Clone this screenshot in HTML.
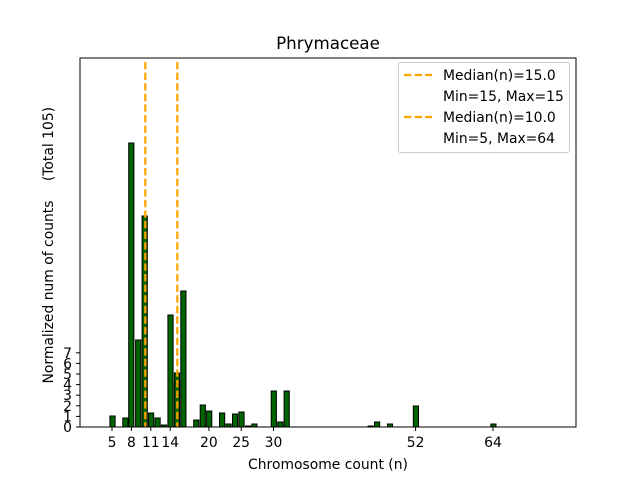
<!DOCTYPE html>
<html><head><meta charset="utf-8"><style>body{margin:0;background:#fff}svg{display:block}text{font-family:"DejaVu Sans","Liberation Sans",sans-serif;fill:#000}</style></head>
<body>
<svg width="640" height="480" viewBox="0 0 640 480" xmlns="http://www.w3.org/2000/svg">
<rect width="640" height="480" fill="#fff"/>
<g fill="#006400" stroke="#000" stroke-width="1">
<rect x="109.9" y="416" width="5.2" height="11"/>
<rect x="122.8" y="418" width="5.2" height="9"/>
<rect x="128.7" y="143" width="5.2" height="284"/>
<rect x="135.6" y="340" width="5.2" height="87"/>
<rect x="142.1" y="216" width="5.2" height="211"/>
<rect x="148.5" y="413" width="5.2" height="14"/>
<rect x="155" y="418" width="5.2" height="9"/>
<rect x="161.4" y="425" width="5.2" height="2"/>
<rect x="167.9" y="315" width="5.2" height="112"/>
<rect x="174.4" y="373" width="5.2" height="54"/>
<rect x="174.4" y="384" width="5.2" height="43"/>
<rect x="180.8" y="291" width="5.2" height="136"/>
<rect x="193.7" y="420" width="5.2" height="7"/>
<rect x="200.2" y="405" width="5.2" height="22"/>
<rect x="206.6" y="411" width="5.2" height="16"/>
<rect x="219.5" y="413" width="5.2" height="14"/>
<rect x="226" y="424" width="5.2" height="3"/>
<rect x="232.5" y="414" width="5.2" height="13"/>
<rect x="238.9" y="412" width="5.2" height="15"/>
<rect x="245.4" y="426" width="5.2" height="1"/>
<rect x="251.8" y="424" width="5.2" height="3"/>
<rect x="271.2" y="391" width="5.2" height="36"/>
<rect x="277.7" y="422" width="5.2" height="5"/>
<rect x="284.1" y="391" width="5.2" height="36"/>
<rect x="368.1" y="426" width="5.2" height="1"/>
<rect x="374.5" y="422" width="5.2" height="5"/>
<rect x="387.4" y="424" width="5.2" height="3"/>
<rect x="413.3" y="406" width="5.2" height="21"/>
<rect x="490.8" y="424" width="5.2" height="3"/>
</g>
<g stroke="#ffa500" stroke-width="2.2" stroke-dasharray="7.4,3.2">
<line x1="177.3" y1="62" x2="177.3" y2="427"/>
<line x1="145.3" y1="62" x2="145.3" y2="427"/>
</g>
<rect x="80" y="58" width="496" height="369" fill="none" stroke="#000" stroke-width="1"/>
<g stroke="#000" stroke-width="1">
<line x1="112" y1="427" x2="112" y2="431"/><line x1="131.4" y1="427" x2="131.4" y2="431"/><line x1="150.8" y1="427" x2="150.8" y2="431"/><line x1="170.2" y1="427" x2="170.2" y2="431"/><line x1="208.9" y1="427" x2="208.9" y2="431"/><line x1="241.2" y1="427" x2="241.2" y2="431"/><line x1="273.5" y1="427" x2="273.5" y2="431"/><line x1="415.6" y1="427" x2="415.6" y2="431"/><line x1="493" y1="427" x2="493" y2="431"/>
<line x1="76" y1="427" x2="80" y2="427"/><line x1="76" y1="416.4" x2="80" y2="416.4"/><line x1="76" y1="405.8" x2="80" y2="405.8"/><line x1="76" y1="395.2" x2="80" y2="395.2"/><line x1="76" y1="384.6" x2="80" y2="384.6"/><line x1="76" y1="374" x2="80" y2="374"/><line x1="76" y1="363.4" x2="80" y2="363.4"/><line x1="76" y1="352.8" x2="80" y2="352.8"/>
</g>
<g font-size="13.9" text-anchor="middle">
<text x="112" y="447">5</text><text x="131.4" y="447">8</text><text x="150.8" y="447">11</text><text x="170.2" y="447">14</text><text x="208.9" y="447">20</text><text x="241.2" y="447">25</text><text x="273.5" y="447">30</text><text x="415.6" y="447">52</text><text x="493" y="447">64</text>
</g>
<g font-size="13.9" text-anchor="end">
<text x="72" y="432">0</text><text x="72" y="421.4">1</text><text x="72" y="410.8">2</text><text x="72" y="400.2">3</text><text x="72" y="389.6">4</text><text x="72" y="379">5</text><text x="72" y="368.4">6</text><text x="72" y="357.8">7</text>
</g>
<text x="328" y="49" font-size="16.7" text-anchor="middle">Phrymaceae</text>
<text x="328" y="469" font-size="13.9" text-anchor="middle">Chromosome count (n)</text>
<text transform="translate(53,292) rotate(-90)" font-size="13.9" text-anchor="middle">Normalized num of counts</text>
<text transform="translate(53,144) rotate(-90)" font-size="13.9" text-anchor="middle">(Total 105)</text>
<rect x="398.5" y="62.5" width="171" height="90" rx="2" fill="#fff" fill-opacity="0.8" stroke="#ccc"/>
<g stroke="#ffa500" stroke-width="2.2" stroke-dasharray="7.4,3.2">
<line x1="404" y1="75" x2="432" y2="75"/>
<line x1="404" y1="117" x2="432" y2="117"/>
</g>
<g font-size="13.9">
<text x="443" y="80">Median(n)=15.0</text>
<text x="443" y="101">Min=15, Max=15</text>
<text x="443" y="122">Median(n)=10.0</text>
<text x="443" y="143">Min=5, Max=64</text>
</g>
</svg>
</body></html>
